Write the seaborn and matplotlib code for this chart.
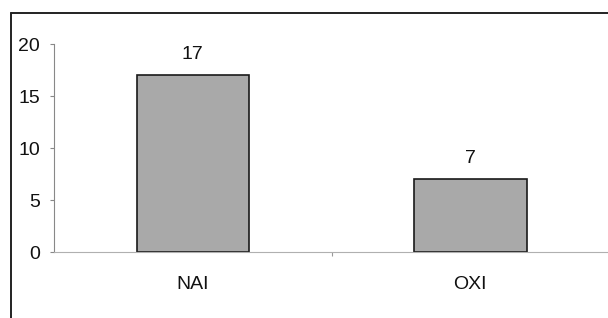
import matplotlib
matplotlib.use("Agg")
import matplotlib.pyplot as plt
import seaborn as sns
import pandas as pd
from matplotlib.lines import Line2D

# data
categories = ["NAI", "OXI"]
values = [17, 7]
yticks = [0, 5, 10, 15, 20]

df = pd.DataFrame({"group": categories, "count": values})

sns.set_style("white")
plt.rcParams["font.family"] = ["Liberation Sans", "DejaVu Sans"]

fig = plt.figure(figsize=(6.08, 3.18), dpi=100)
ax = fig.add_axes([0.0888, 0.2075, 0.913, 0.6541])

sns.barplot(data=df, x="group", y="count", ax=ax, color="#a9a9a9",
            width=0.405, edgecolor="#1a1a1a", linewidth=1.2, saturation=1)

ax.set_ylim(0, 20)
ax.set_xlim(-0.5, 1.5)
ax.set_yticks(yticks)
ax.set_xlabel("")
ax.set_ylabel("")

for i, v in enumerate(values):
    ax.annotate(str(v), (i, v), xytext=(0, 9), textcoords="offset points",
                ha="center", va="bottom", fontsize=14, color="#111111")

# axes styling
for side in ["top", "right"]:
    ax.spines[side].set_visible(False)
ax.spines["left"].set_color("#888888")
ax.spines["left"].set_linewidth(0.8)
ax.spines["bottom"].set_color("#b0b0b0")
ax.spines["bottom"].set_linewidth(0.8)
ax.spines["bottom"].set_linestyle((0, (2, 1)))

ax.tick_params(axis="y", left=True, length=3, width=0.8, color="#888888",
               labelsize=14, labelcolor="#111111", pad=7)
ax.set_xticks([0, 1])
ax.set_xticklabels(categories)
ax.tick_params(axis="x", bottom=False, labelsize=14, labelcolor="#111111", pad=14)
ax.set_xticks([0.5], minor=True)
ax.tick_params(axis="x", which="minor", bottom=True, length=3, width=0.8, color="#999999")

# outer chart frame (scan cut at bottom/right)
fig.add_artist(Line2D([11 / 608, 11 / 608], [0, 1 - 13 / 318], color="#222222", lw=1.4))
fig.add_artist(Line2D([11 / 608, 1], [1 - 13 / 318, 1 - 13 / 318], color="#222222", lw=1.4))

fig.savefig("out.png", dpi=100)
